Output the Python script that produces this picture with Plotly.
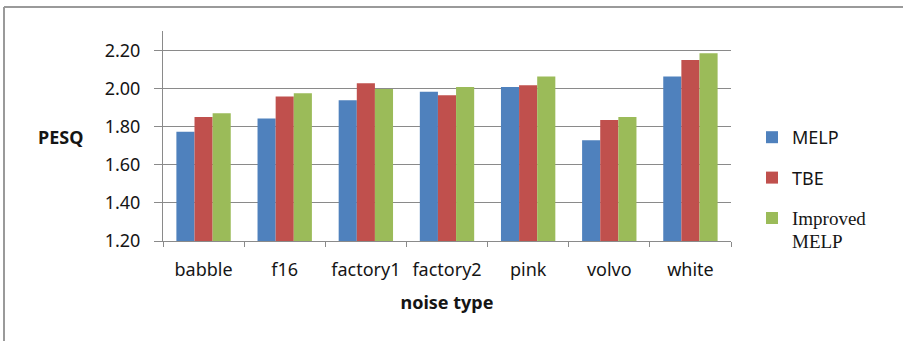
import plotly.graph_objects as go

# Noise conditions and PESQ scores per coder
noise_types = ["babble", "f16", "factory1", "factory2", "pink", "volvo", "white"]
melp = [1.775, 1.845, 1.94, 1.985, 2.01, 1.73, 2.065]
tbe = [1.853, 1.96, 2.03, 1.967, 2.02, 1.837, 2.153]
improved_melp = [1.872, 1.977, 2.0, 2.01, 2.065, 1.853, 2.188]

y_ticks = [1.2, 1.4, 1.6, 1.8, 2.0, 2.2]
y_tick_text = ["1.20", "1.40", "1.60", "1.80", "2.00", "2.20"]

W, H = 903, 341
ML, MR, MT, MB = 163, 172, 31, 100
PW, PH = W - ML - MR, H - MT - MB

SANS = "Noto Sans, Open Sans, sans-serif"
SERIF = "Liberation Serif, DejaVu Serif, serif"
GRID = "#8a8a8a"
TEXT = "#151515"

fig = go.Figure()
fig.add_trace(go.Bar(name="MELP", x=noise_types, y=melp,
                     marker=dict(color="#4F81BD", line=dict(width=0)), legendgroup="a"))
fig.add_trace(go.Bar(name="TBE", x=noise_types, y=tbe,
                     marker=dict(color="#C0504D", line=dict(width=0)), legendgroup="b"))
fig.add_trace(go.Bar(name=f"<span style='font-family:{SERIF};font-size:19px'>Improved<br>MELP</span>",
                     x=noise_types, y=improved_melp,
                     marker=dict(color="#9BBB59", line=dict(width=0)), legendgroup="c"))


def px_to_paper_x(px):
    return (px - ML) / PW


def px_to_paper_y(py):
    return (H - MB - py) / PH


fig.update_layout(
    width=W, height=H,
    margin=dict(l=ML, r=MR, t=MT, b=MB, pad=0),
    paper_bgcolor="white", plot_bgcolor="white",
    barmode="group", bargap=0.33, bargroupgap=0,
    font=dict(family=SANS, size=18, color=TEXT),
    showlegend=True,
    legend=dict(x=px_to_paper_x(752), y=px_to_paper_y(119), xanchor="left", yanchor="top",
                tracegroupgap=14, valign="top", bgcolor="rgba(0,0,0,0)",
                font=dict(family=SANS, size=18, color=TEXT)),
    xaxis=dict(
        showline=True, linecolor=GRID, linewidth=1,
        ticks="outside", tickson="boundaries", ticklen=5, tickcolor=GRID,
        showgrid=False, ticklabelstandoff=12,
        title=dict(text="<b>noise type</b>", standoff=16,
                   font=dict(family=SANS, size=18, color=TEXT)),
    ),
    yaxis=dict(
        range=[1.2, 2.305], tickvals=y_ticks, ticktext=y_tick_text,
        showline=True, linecolor=GRID, linewidth=1,
        ticks="outside", ticklen=8, tickcolor=GRID,
        showgrid=True, gridcolor=GRID, gridwidth=1,
        zeroline=False, ticklabelstandoff=10,
    ),
    annotations=[
        dict(text="<b>PESQ</b>", xref="paper", yref="paper",
             x=px_to_paper_x(60), y=px_to_paper_y(137), xanchor="center", yanchor="middle",
             showarrow=False, font=dict(family=SANS, size=18, color=TEXT)),
    ],
    shapes=[
        # chart frame: top and left edges
        dict(type="line", xref="paper", yref="paper",
             x0=px_to_paper_x(4), x1=px_to_paper_x(903), y0=px_to_paper_y(7), y1=px_to_paper_y(7),
             line=dict(color="#9a9a9a", width=2)),
        dict(type="line", xref="paper", yref="paper",
             x0=px_to_paper_x(4), x1=px_to_paper_x(4), y0=px_to_paper_y(7), y1=px_to_paper_y(341),
             line=dict(color="#9a9a9a", width=2)),
    ],
)

fig.write_html("out.html")
